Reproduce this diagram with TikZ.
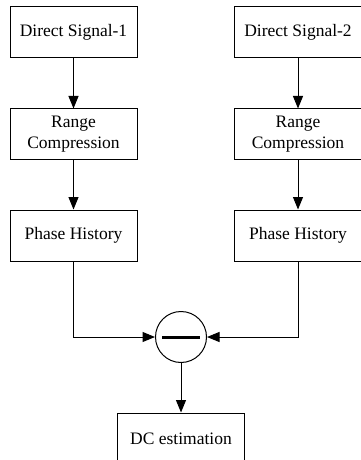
\documentclass[tikz,border=0pt]{standalone}
\usepackage{fontspec}
\setmainfont{Liberation Serif}
\usetikzlibrary{arrows.meta,positioning,calc}

\begin{document}
\begin{tikzpicture}[
      x=0.6pt,y=-0.6pt,
      block/.style={draw=black,line width=0.6pt,fill=white,minimum width=76.2pt,minimum height=30.6pt,align=center,inner sep=0pt,font=\fontsize{10.5}{12.5}\selectfont},
      subtr/.style={circle,draw=black,line width=0.6pt,minimum size=30.6pt,inner sep=0pt},
      arr/.style={-{Triangle[length=7.5pt,width=6pt]},line width=0.6pt,draw=black}
    ]
    \useasboundingbox (0,0) rectangle (360,460);
    \node[block] (ds1) at (73.5,32.5)  {Direct Signal-1};
    \node[block] (rc1) at (73.5,134.5) {Range\\Compression};
    \node[block] (ph1) at (73.5,235.5) {Phase History};
    \node[block] (ds2) at (298,32.5)   {Direct Signal-2};
    \node[block] (rc2) at (298,134.5)  {Range\\Compression};
    \node[block] (ph2) at (298,235.5)  {Phase History};
    \node[subtr] (sub) at (181,337) {};
    \node[block] (dc)  at (181,438.5)  {DC estimation};
    \draw[line width=1.8pt] ($(sub.west)!0.14!(sub.east)$) -- ($(sub.west)!0.86!(sub.east)$);
    \draw[arr] (ds1) -- (rc1);
    \draw[arr] (rc1) -- (ph1);
    \draw[arr] (ds2) -- (rc2);
    \draw[arr] (rc2) -- (ph2);
    \draw[arr] (ph1) |- (sub);
    \draw[arr] (ph2) |- (sub);
    \draw[arr] (sub) -- (dc);
  \end{tikzpicture}
\end{document}
